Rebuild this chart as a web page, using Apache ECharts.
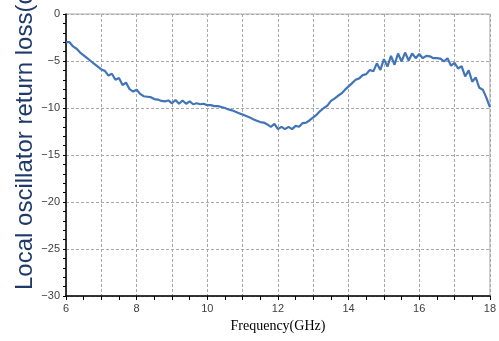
<!DOCTYPE html>
<html>
<head>
<meta charset="utf-8">
<script src="https://cdn.jsdelivr.net/npm/echarts@6/dist/echarts.min.js"></script>
<style>
  html, body { margin: 0; padding: 0; background: #fff; }
  #chart { width: 499px; height: 341px; }
</style>
</head>
<body>
<div id="chart"></div>
<script>
// frequency points (GHz)
const freqList = [
  6.0, 6.1, 6.2, 6.3, 6.4, 6.5, 6.6, 6.7, 6.8, 6.9,
  7.0, 7.1, 7.2, 7.3, 7.4, 7.5, 7.6, 7.7, 7.8, 7.9,
  8.0, 8.1, 8.2, 8.3, 8.4, 8.5, 8.6, 8.7, 8.8, 8.9,
  9.0, 9.1, 9.2, 9.3, 9.4, 9.5, 9.6, 9.7, 9.8, 9.9,
  10.0, 10.1, 10.2, 10.3, 10.4, 10.5, 10.6, 10.7, 10.8, 10.9,
  11.0, 11.1, 11.2, 11.3, 11.4, 11.5, 11.6, 11.7, 11.8, 11.9,
  12.0, 12.1, 12.2, 12.3, 12.4, 12.5, 12.6, 12.7, 12.8, 12.9,
  13.0, 13.1, 13.2, 13.3, 13.4, 13.5, 13.6, 13.7, 13.8, 13.9,
  14.0, 14.1, 14.2, 14.3, 14.4, 14.5, 14.6, 14.7, 14.8, 14.9,
  15.0, 15.1, 15.2, 15.3, 15.4, 15.5, 15.6, 15.7, 15.8, 15.9,
  16.0, 16.1, 16.2, 16.3, 16.4, 16.5, 16.6, 16.7, 16.8, 16.9,
  17.0, 17.1, 17.2, 17.3, 17.4, 17.5, 17.6, 17.7, 17.8, 17.9,
  18.0
];
// return loss (dB)
const lossList = [
  -3.0, -3.0, -3.45, -3.7, -4.1, -4.4, -4.7, -5.0, -5.3, -5.6,
  -5.9, -6.05, -6.55, -6.35, -7.0, -6.8, -7.55, -7.3, -8.0, -8.25,
  -8.05, -8.5, -8.75, -8.8, -8.85, -9.05, -9.1, -9.25, -9.3, -9.2,
  -9.5, -9.15, -9.55, -9.2, -9.55, -9.3, -9.6, -9.5, -9.6, -9.55,
  -9.7, -9.7, -9.8, -9.8, -9.9, -10.0, -10.15, -10.25, -10.4, -10.55,
  -10.7, -10.85, -11.0, -11.2, -11.35, -11.5, -11.55, -11.75, -12.0, -11.7,
  -12.25, -12.0, -12.25, -12.0, -12.25, -11.9, -12.0, -11.6, -11.55, -11.3,
  -11.0, -10.7, -10.3, -10.0, -9.75, -9.25, -9.0, -8.7, -8.45, -8.05,
  -7.7, -7.35, -7.0, -6.85, -6.5, -6.4, -5.95, -6.1, -5.25, -5.95,
  -4.8, -5.6, -4.45, -5.4, -4.2, -5.05, -4.1, -4.95, -4.2, -4.7,
  -4.25, -4.7, -4.45, -4.5, -4.7, -4.7, -4.75, -5.05, -4.7, -5.5,
  -5.2, -5.8, -5.55, -6.65, -6.0, -7.2, -6.75, -7.85, -8.05, -8.9,
  -9.9
];
const xLabels = [6, 8, 10, 12, 14, 16, 18];
const yLabels = [0, -5, -10, -15, -20, -25, -30];

const chart = echarts.init(document.getElementById("chart"), null, { renderer: "canvas" });

const labelFont = { fontFamily: "Liberation Sans", fontSize: 11, color: "#404040" };

chart.setOption({
  animation: false,
  grid: {
    left: 66, right: 6, top: 14, bottom: 45,
    show: true, borderColor: "#b0b0b0", borderWidth: 1
  },
  graphic: [
    {
      type: "text",
      x: 37, y: 290,
      rotation: Math.PI / 2,
      style: {
        text: "Local oscillator return loss(dB)",
        fontFamily: "Liberation Sans", fontSize: 24,
        fill: "#1f3a6a",
        textAlign: "left", textVerticalAlign: "bottom"
      }
    }
  ],
  xAxis: {
    type: "value",
    min: 6, max: 18, interval: 1,
    name: "Frequency(GHz)",
    nameLocation: "middle",
    nameGap: 21,
    nameTextStyle: { fontFamily: "Liberation Serif", fontSize: 14, color: "#000" },
    axisLine: { onZero: false, lineStyle: { color: "#000", width: 1.5 } },
    axisTick: { length: 4, lineStyle: { color: "#000" } },
    minorTick: { show: true, splitNumber: 2, length: 4, lineStyle: { color: "#000" } },
    axisLabel: Object.assign({
      margin: 7,
      formatter: (v) => (xLabels.includes(v) ? String(v) : "")
    }, labelFont),
    splitLine: { show: true, lineStyle: { color: "#a8a8a8", type: [3, 2] } }
  },
  yAxis: {
    type: "value",
    min: -30, max: 0, interval: 5,
    axisLine: { show: true, onZero: false, lineStyle: { color: "#000", width: 1.5 } },
    axisTick: { show: true, length: 3, lineStyle: { color: "#000" } },
    minorTick: { show: true, splitNumber: 5, length: 3, lineStyle: { color: "#000" } },
    axisLabel: Object.assign({
      margin: 6,
      formatter: (v) => (yLabels.includes(v) ? String(v).replace("-", "\u2212") : "")
    }, labelFont),
    splitLine: { show: true, lineStyle: { color: "#a8a8a8", type: [3, 2] } }
  },
  series: [
    {
      type: "line",
      data: freqList.map((f, i) => [f, lossList[i]]),
      showSymbol: false,
      lineStyle: { color: "#4275b8", width: 2.2 },
      z: 5
    }
  ]
});
</script>
</body>
</html>
